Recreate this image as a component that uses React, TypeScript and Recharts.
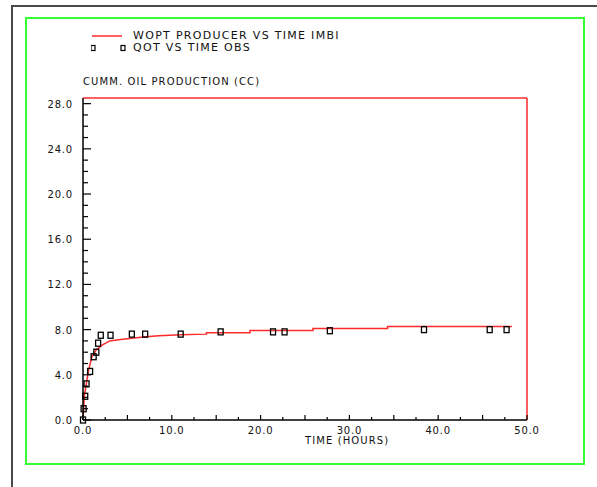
import React from 'react';
import { ComposedChart, Line, Scatter, XAxis, YAxis, Legend, ReferenceLine } from 'recharts';

// simulated cumulative oil (WOPT)
const simTime = [0, 0.15, 0.6, 1.0, 1.5, 2.1, 3.0, 4.0, 5.0, 6.8, 8.5, 11.0, 13.9, 13.9, 18.8, 18.8, 25.9, 25.9, 34.3, 34.3, 48.3];
const simOil = [0, 2.1, 4.3, 5.6, 6.2, 6.6, 7.0, 7.1, 7.2, 7.35, 7.45, 7.55, 7.6, 7.72, 7.72, 7.92, 7.92, 8.1, 8.1, 8.28, 8.28];

// observed cumulative oil (QOT)
const obsTime = [0, 0.07, 0.25, 0.4, 0.8, 1.2, 1.5, 1.7, 2.0, 3.1, 5.5, 7.0, 11.0, 15.5, 21.4, 22.7, 27.8, 38.4, 45.8, 47.7];
const obsOil = [0, 1.0, 2.1, 3.2, 4.3, 5.6, 6.0, 6.8, 7.5, 7.5, 7.6, 7.6, 7.6, 7.8, 7.8, 7.8, 7.9, 8.0, 8.0, 8.0];

const xTicks = [0, 2.5, 5, 7.5, 10, 12.5, 15, 17.5, 20, 22.5, 25, 27.5, 30, 32.5, 35, 37.5, 40, 42.5, 45, 47.5, 50];
const yTicks = [0, 1, 2, 3, 4, 5, 6, 7, 8, 9, 10, 11, 12, 13, 14, 15, 16, 17, 18, 19, 20, 21, 22, 23, 24, 25, 26, 27, 28];

const simData = simTime.map((t, i) => ({ time: t, oil: simOil[i] }));
const obsData = obsTime.map((t, i) => ({ time: t, oil: obsOil[i] }));

const FONT = '"DejaVu Sans", sans-serif';
const RED = '#ff2a2a';

const YTick = (props: any) => {
  const { x, y, payload } = props;
  const v = payload.value;
  const major = v % 4 === 0;
  return (
    <g>
      <line x1={x} y1={y} x2={x + (major ? 8 : 5)} y2={y} stroke="#000" strokeWidth={1.2} />
      {major && (
        <text x={x - 10} y={y} dy={4} textAnchor="end" fontFamily={FONT} fontSize={10} letterSpacing={0.8} fill="#111">
          {v.toFixed(1)}
        </text>
      )}
    </g>
  );
};

const XTick = (props: any) => {
  const { x, y, payload } = props;
  const v = payload.value;
  const len = v % 5 === 0 ? 5 : 3;
  return (
    <g>
      <line x1={x} y1={y} x2={x} y2={y - len} stroke="#000" strokeWidth={1.2} />
      {v % 10 === 0 && (
        <text x={x} y={y + 14} textAnchor="middle" fontFamily={FONT} fontSize={10} letterSpacing={0.8} fill="#111">
          {v.toFixed(1)}
        </text>
      )}
    </g>
  );
};

const obsShape = (props: any) => {
  const { cx, cy } = props;
  return <rect x={cx - 2.5} y={cy - 3} width={5} height={6} fill="none" stroke="#000" strokeWidth={1.3} />;
};

const renderLegend = () => (
  <div style={{ fontFamily: FONT, fontSize: 11, letterSpacing: 1.3, color: '#111', lineHeight: '12px' }}>
    <div style={{ display: 'flex', alignItems: 'center', height: 12 }}>
      <svg width={42} height={12}>
        <line x1={1} x2={31} y1={6} y2={6} stroke={RED} strokeWidth={1.5} />
      </svg>
      <span>WOPT PRODUCER VS TIME IMBI</span>
    </div>
    <div style={{ display: 'flex', alignItems: 'center', height: 12 }}>
      <svg width={42} height={12}>
        <rect x={0} y={3.5} width={4} height={5} fill="none" stroke="#000" strokeWidth={1.2} />
        <rect x={30} y={3.5} width={4} height={5} fill="none" stroke="#000" strokeWidth={1.2} />
      </svg>
      <span>QOT VS TIME OBS</span>
    </div>
  </div>
);

const YTitle = (props: any) => {
  const { viewBox } = props;
  return (
    <text x={viewBox.x + viewBox.width} y={viewBox.y - 13} fontFamily={FONT} fontSize={10} letterSpacing={1.1} fill="#111">
      CUMM. OIL PRODUCTION (CC)
    </text>
  );
};

const XTitle = (props: any) => {
  const { viewBox } = props;
  return (
    <text x={viewBox.x + viewBox.width / 2} y={viewBox.y + 24} fontFamily={FONT} fontSize={10} letterSpacing={1.1} fill="#111">
      TIME (HOURS)
    </text>
  );
};

export default function App() {
  return (
    <div style={{ position: 'absolute', left: 0, top: 0, width: 597, height: 487, background: '#fff' }}>
      <div style={{ position: 'absolute', left: 11, top: 5, width: 586, height: 2, background: '#4a4a4a' }} />
      <div style={{ position: 'absolute', left: 11, top: 5, width: 2, height: 482, background: '#4a4a4a' }} />
      <div style={{ position: 'absolute', left: 25, top: 17, width: 556, height: 444, border: '2px solid #33ff33' }} />
      <div style={{ position: 'absolute', left: 0, top: 0 }}>
        <ComposedChart width={597} height={487} margin={{ top: 98, right: 70, bottom: 37, left: 23 }}>
          <XAxis
            dataKey="time"
            type="number"
            domain={[0, 50]}
            ticks={xTicks}
            interval={0}
            tickSize={0}
            tickMargin={0}
            tick={<XTick />}
            height={30}
            axisLine={{ stroke: '#000', strokeWidth: 1.5 }}
            allowDuplicatedCategory
            label={<XTitle />}
          />
          <YAxis
            dataKey="oil"
            type="number"
            domain={[0, 28.5]}
            ticks={yTicks}
            interval={0}
            tickSize={0}
            tickMargin={0}
            tick={<YTick />}
            width={60}
            axisLine={{ stroke: '#000', strokeWidth: 1.5 }}
            label={<YTitle />}
          />
          <ReferenceLine y={28.5} stroke={RED} strokeWidth={1.5} />
          <ReferenceLine x={50} stroke={RED} strokeWidth={1.5} />
          <Legend
            layout="vertical"
            verticalAlign="middle"
            align="center"
            content={renderLegend}
            wrapperStyle={{ left: 91, top: 30, width: 'auto' }}
          />
          <Line data={simData} dataKey="oil" type="linear" stroke={RED} strokeWidth={1.5} dot={false} isAnimationActive={false} legendType="line" />
          <Scatter data={obsData} dataKey="oil" shape={obsShape} isAnimationActive={false} />
        </ComposedChart>
      </div>
    </div>
  );
}
